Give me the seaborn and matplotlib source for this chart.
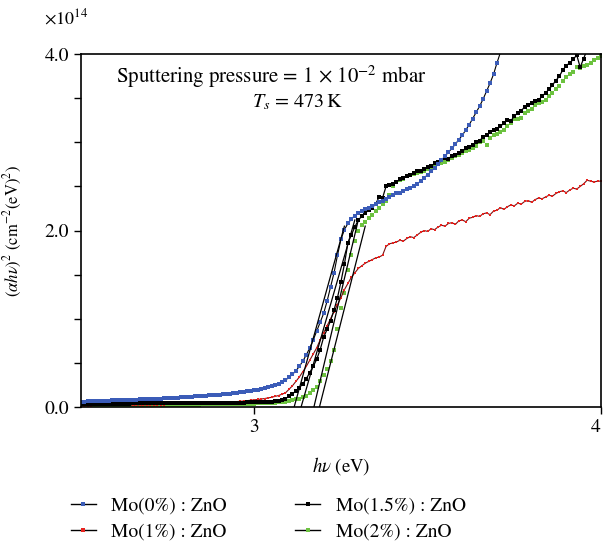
import numpy as np
import matplotlib
matplotlib.use("Agg")
import matplotlib.pyplot as plt
import seaborn as sns
from matplotlib.lines import Line2D

# (alpha h nu)^2 in units of 1e14, sampled every 0.01 eV from 2.50 eV
mo0 = [0.060, 0.062, 0.064, 0.066, 0.068, 0.070, 0.071, 0.072, 0.073, 0.075,
       0.076, 0.077, 0.078, 0.079, 0.080, 0.081, 0.083, 0.085, 0.087, 0.089,
       0.090, 0.092, 0.094, 0.096, 0.098, 0.100, 0.102, 0.104, 0.106, 0.108,
       0.110, 0.113, 0.116, 0.119, 0.122, 0.125, 0.128, 0.131, 0.134, 0.137,
       0.140, 0.144, 0.148, 0.152, 0.156, 0.160, 0.165, 0.170, 0.176, 0.182,
       0.188, 0.195, 0.203, 0.212, 0.222, 0.233, 0.246, 0.262, 0.282, 0.305,
       0.335, 0.37, 0.41, 0.46, 0.52, 0.59, 0.67, 0.76, 0.86, 0.96,
       1.06, 1.20, 1.36, 1.52, 1.72, 1.90, 2.01, 2.08, 2.13, 2.17,
       2.20, 2.22, 2.24, 2.26, 2.28, 2.30, 2.32, 2.34, 2.36, 2.38,
       2.40, 2.42, 2.43, 2.45, 2.47, 2.48, 2.50, 2.53, 2.56, 2.60,
       2.63, 2.67, 2.71, 2.75, 2.80, 2.84, 2.89, 2.93, 2.98, 3.03,
       3.08, 3.14, 3.20, 3.27, 3.34, 3.41, 3.49, 3.58, 3.67, 3.77,
       3.90, 4.02]

mo1 = [0.015, 0.015, 0.016, 0.016, 0.017, 0.017, 0.018, 0.018, 0.019, 0.019,
       0.020, 0.020, 0.021, 0.021, 0.022, 0.022, 0.023, 0.023, 0.024, 0.025,
       0.025, 0.026, 0.027, 0.027, 0.028, 0.029, 0.030, 0.031, 0.032, 0.033,
       0.034, 0.035, 0.036, 0.037, 0.038, 0.040, 0.041, 0.043, 0.045, 0.047,
       0.049, 0.051, 0.053, 0.056, 0.058, 0.061, 0.064, 0.068, 0.072, 0.076,
       0.080, 0.085, 0.090, 0.096, 0.103, 0.11, 0.12, 0.13, 0.145, 0.16,
       0.20, 0.24, 0.29, 0.34, 0.40, 0.46, 0.53, 0.60, 0.67, 0.76,
       0.84, 0.92, 1.00, 1.08, 1.16, 1.24, 1.33, 1.40, 1.47, 1.52,
       1.57, 1.60, 1.63, 1.65, 1.67, 1.69, 1.70, 1.72, 1.82, 1.85,
       1.86, 1.87, 1.89, 1.88, 1.91, 1.93, 1.92, 1.95, 1.98, 2.00,
       1.99, 2.02, 2.01, 2.04, 2.06, 2.05, 2.08, 2.09, 2.07, 2.11,
       2.12, 2.10, 2.14, 2.15, 2.17, 2.16, 2.19, 2.20, 2.18, 2.22,
       2.23, 2.26, 2.24, 2.27, 2.29, 2.28, 2.31, 2.30, 2.33, 2.34,
       2.32, 2.35, 2.37, 2.36, 2.38, 2.40, 2.39, 2.42, 2.44, 2.45,
       2.43, 2.46, 2.48, 2.47, 2.50, 2.53, 2.57, 2.56, 2.55, 2.56,
       2.56]

mo15 = [0.035, 0.035, 0.036, 0.036, 0.036, 0.037, 0.037, 0.037, 0.038, 0.038,
        0.038, 0.038, 0.039, 0.039, 0.039, 0.040, 0.040, 0.040, 0.040, 0.041,
        0.041, 0.041, 0.041, 0.042, 0.042, 0.042, 0.042, 0.043, 0.043, 0.043,
        0.043, 0.044, 0.044, 0.044, 0.045, 0.045, 0.045, 0.046, 0.046, 0.046,
        0.047, 0.047, 0.048, 0.048, 0.049, 0.049, 0.050, 0.050, 0.051, 0.052,
        0.053, 0.054, 0.055, 0.057, 0.059, 0.062, 0.066, 0.071, 0.080, 0.095,
        0.12, 0.15, 0.18, 0.22, 0.26, 0.32, 0.39, 0.46, 0.54, 0.65,
        0.79, 0.88, 0.98, 1.10, 1.24, 1.42, 1.62, 1.86, 1.95, 2.04,
        2.12, 2.16, 2.20, 2.23, 2.26, 2.30, 2.38, 2.37, 2.50, 2.52,
        2.53, 2.55, 2.58, 2.60, 2.62, 2.63, 2.65, 2.67, 2.68, 2.70,
        2.72, 2.73, 2.76, 2.78, 2.80, 2.82, 2.81, 2.85, 2.86, 2.88,
        2.90, 2.93, 2.95, 2.97, 3.00, 3.02, 3.06, 3.08, 3.12, 3.14,
        3.15, 3.18, 3.22, 3.25, 3.24, 3.30, 3.33, 3.36, 3.40, 3.42,
        3.45, 3.47, 3.48, 3.52, 3.56, 3.60, 3.65, 3.70, 3.75, 3.82,
        3.87, 3.90, 3.94, 3.99, 3.85, 3.95, 4.05]

mo2 = [0.020, 0.020, 0.020, 0.020, 0.020, 0.021, 0.021, 0.021, 0.021, 0.022,
       0.022, 0.022, 0.022, 0.022, 0.023, 0.023, 0.023, 0.023, 0.024, 0.024,
       0.024, 0.024, 0.025, 0.025, 0.025, 0.025, 0.026, 0.026, 0.026, 0.027,
       0.027, 0.027, 0.028, 0.028, 0.028, 0.029, 0.029, 0.030, 0.030, 0.031,
       0.031, 0.032, 0.032, 0.033, 0.034, 0.034, 0.035, 0.036, 0.037, 0.038,
       0.039, 0.040, 0.041, 0.043, 0.045, 0.047, 0.050, 0.053, 0.057, 0.062,
       0.068, 0.076, 0.085, 0.096, 0.11, 0.13, 0.16, 0.19, 0.23, 0.29,
       0.36, 0.43, 0.52, 0.65, 0.88, 1.12, 1.29, 1.55, 1.72, 1.88,
       2.00, 2.06, 2.10, 2.14, 2.18, 2.22, 2.26, 2.30, 2.34, 2.40,
       2.50, 2.55, 2.57, 2.58, 2.62, 2.63, 2.64, 2.65, 2.66, 2.68,
       2.70, 2.72, 2.73, 2.75, 2.77, 2.78, 2.80, 2.82, 2.84, 2.86,
       2.88, 2.90, 2.91, 2.93, 2.96, 3.00, 3.02, 2.97, 3.05, 3.08,
       3.10, 3.12, 3.14, 3.18, 3.22, 3.26, 3.27, 3.28, 3.33, 3.35,
       3.38, 3.42, 3.45, 3.46, 3.48, 3.52, 3.56, 3.61, 3.64, 3.70,
       3.74, 3.77, 3.80, 3.85, 3.84, 3.86, 3.88, 3.90, 3.93, 3.96,
       3.98]

# linear extrapolation lines: x at zero, x at top end, y at top end
fit_x0 = [3.115, 3.135, 3.172, 3.188]
fit_x1 = [3.26, 3.29, 3.30, 3.32]
fit_y1 = [2.05, 2.12, 2.12, 2.05]

labels = ["Mo(0%) : ZnO", "Mo(1%) : ZnO", "Mo(1.5%) : ZnO", "Mo(2%) : ZnO"]
colors = ["#3b5cb8", "#e8231f", "#000000", "#6cc23f"]

plt.rcParams["font.family"] = "STIXGeneral"
plt.rcParams["mathtext.fontset"] = "stix"


def xgrid(vals):
    return 2.5 + 0.01 * np.arange(len(vals))


fig = plt.figure(figsize=(6.04, 5.41), dpi=100)
ax = fig.add_axes([0.134, 0.2477, 0.861, 0.6523])

sns.lineplot(x=xgrid(mo2), y=mo2, ax=ax, color=colors[3], marker="s",
             linewidth=0, markersize=3.4, markeredgewidth=0, sort=False)
sns.lineplot(x=xgrid(mo1), y=mo1, ax=ax, color="#7a1010", marker="s",
             linewidth=0.8, markersize=1.8, markerfacecolor=colors[1],
             markeredgewidth=0, sort=False)
sns.lineplot(x=xgrid(mo15), y=mo15, ax=ax, color="black", marker="s",
             linewidth=0.9, markersize=3.2, markeredgewidth=0, sort=False)
sns.lineplot(x=xgrid(mo0), y=mo0, ax=ax, color="black", marker="s",
             linewidth=0.8, markersize=3.2, markerfacecolor=colors[0],
             markeredgewidth=0, sort=False)

for a, b, c in zip(fit_x0, fit_x1, fit_y1):
    ax.plot([a, b], [0, c], color="black", linewidth=0.9)

ax.set_xlim(2.5, 4.0)
ax.set_ylim(0, 4.0)
ax.set_xticks([3, 4])
ax.set_xticklabels(["3", "4"])
ax.get_xticklabels()[1].set_horizontalalignment("right")
ax.set_yticks([0, 2, 4])
ax.set_yticklabels(["0.0", "2.0", "4.0"])
ax.set_yticks(np.arange(0, 4.01, 0.5), minor=True)
ax.tick_params(axis="both", which="both", direction="out", length=5,
               width=1, labelsize=14)
for s in ax.spines.values():
    s.set_linewidth(1.2)

ax.set_xlabel(r"$h\nu$ (eV)", fontsize=13.5, labelpad=14)
ax.set_ylabel(r"$(\alpha h\nu)^2$ (cm$^{-2}$(eV)$^2$)", fontsize=12,
              labelpad=15)

ax.text(0.365, 0.935, r"Sputtering pressure = 1 $\times$ 10$^{-2}$ mbar",
        transform=ax.transAxes, ha="center", va="center", fontsize=15)
ax.text(0.417, 0.864, r"$T_s$ = 473$\,$K", transform=ax.transAxes,
        ha="center", va="center", fontsize=14.5)
fig.text(0.073, 0.967, r"$\times$10$^{14}$", ha="left", va="center",
         fontsize=13)

handles = []
for c in colors:
    handles.append(Line2D([], [], color="black", linewidth=1, marker="s",
                          markersize=3, markerfacecolor=c, markeredgewidth=0))
fig.legend(handles, labels, ncol=2, loc="upper left",
           bbox_to_anchor=(0.088, 0.113), frameon=False, fontsize=14,
           handlelength=1.3, handletextpad=0.8, columnspacing=3.5,
           labelspacing=0.4)

fig.savefig("out.png", dpi=100)
